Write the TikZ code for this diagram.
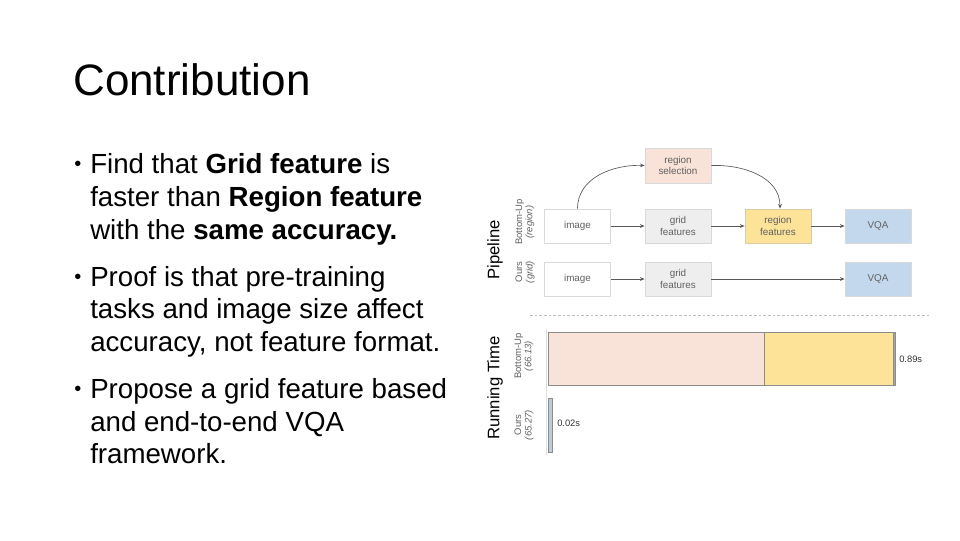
\documentclass[tikz,border=0pt]{standalone}
\usepackage{fontspec}
\setmainfont{Liberation Sans}
\usetikzlibrary{arrows.meta}
\definecolor{peach}{HTML}{F9E2D7}
\definecolor{gridc}{HTML}{EEEEEE}
\definecolor{yell}{HTML}{FDE398}
\definecolor{vqab}{HTML}{C3D8EC}
\definecolor{barb}{HTML}{BFCCD8}
\begin{document}
\begin{tikzpicture}[x=0.75pt,y=-0.75pt,
  btxt/.style={anchor=base west, inner sep=0pt, font=\fontsize{20.75}{24}\selectfont},
  dot/.style={anchor=base west, inner sep=0pt, font=\fontsize{15}{18}\selectfont},
  box/.style={draw=black!15, line width=0.6pt, minimum width=49.5pt, minimum height=25.5pt,
    inner sep=0pt, font=\fontsize{7.4}{8.4}\selectfont, text=black!62, align=center},
  arr/.style={-{Stealth[length=3.5pt,width=2.8pt]}, draw=black!65, line width=0.5pt},
  side/.style={rotate=90, align=center, inner sep=0pt, font=\fontsize{7.1}{7.8}\selectfont, text=black!62},
  big/.style={rotate=90, inner sep=0pt, font=\fontsize{12.5}{14}\selectfont},
  val/.style={anchor=west, inner sep=0pt, font=\fontsize{7}{8}\selectfont, text=black!80}]
\useasboundingbox (0,0) rectangle (960,540);

% title
\node[anchor=base west, inner sep=0pt, font=\fontsize{33}{40}\selectfont] (title) at (73,95) {Contribution};

% bullets
\node[dot] (d1) at (74,170) {•};
\node[btxt] (b1a) at (90,173) {Find that \textbf{Grid feature} is};
\node[btxt] (b1b) at (90,206) {faster than \textbf{Region feature}};
\node[btxt] (b1c) at (90,239) {with the \textbf{same accuracy.}};
\node[dot] (d2) at (74,283) {•};
\node[btxt] (b2a) at (90,286) {Proof is that pre-training};
\node[btxt] (b2b) at (90,318) {tasks and image size affect};
\node[btxt] (b2c) at (90,351) {accuracy, not feature format.};
\node[dot] (d3) at (74,395) {•};
\node[btxt] (b3a) at (90,398) {Propose a grid feature based};
\node[btxt] (b3b) at (90,431) {and end-to-end VQA};
\node[btxt] (b3c) at (90,463) {framework.};

% pipeline
\node[big] (pipe) at (495,250) {Pipeline};
\node[side] (lbu) at (525,222) {Bottom-Up\\\textit{(region)}};
\node[side] (lours) at (525,272) {Ours\\\textit{(grid)}};

\node[box, fill=white] (img1) at (577.5,226) {image};
\node[box, fill=gridc] (grid1) at (678,226) {grid\\features};
\node[box, fill=yell, draw=yell!80!black!70] (regf) at (778,226) {region\\features};
\node[box, fill=vqab] (vqa1) at (878,226) {VQA};
\node[box, fill=peach, minimum height=26.25pt] (regsel) at (678,165.5) {region\\selection};

\node[box, fill=white] (img2) at (577.5,279) {image};
\node[box, fill=gridc] (grid2) at (678,279) {grid\\features};
\node[box, fill=vqab] (vqa2) at (878,279) {VQA};

\draw[arr] (img1) -- (grid1);
\draw[arr] (grid1) -- (regf);
\draw[arr] (regf) -- (vqa1);
\draw[arr] (img2) -- (grid2);
\draw[arr] (grid2) -- (vqa2);
\draw[arr] (img1.north) to[out=90,in=178] (regsel.west);
\draw[arr] (regsel.east) to[out=2,in=90] ([xshift=1.5pt]regf.north);

% separator
\draw[black!25, dashed, dash pattern=on 2pt off 1.5pt, line width=0.5pt] (530,315) -- (930,315);

% running time
\node[big] (rt) at (495,388) {Running Time};
\node[side] (rbu) at (524,356) {Bottom-Up\\\textit{(66.13)}};
\node[side] (rours) at (524,425) {Ours\\\textit{(65.27)}};

\draw[black!12, line width=0.5pt] (546,329) -- (546,455);
\filldraw[fill=peach, draw=black!45, line width=0.6pt] (548,332) rectangle (764,385);
\filldraw[fill=yell, draw=black!45, line width=0.6pt] (764,332) rectangle (893,385);
\filldraw[fill=black!35, draw=black!45, line width=0.6pt] (893,332) rectangle (895,385);
\filldraw[fill=barb, draw=black!45, line width=0.6pt] (548,398) rectangle (552,452);
\node[val] (v1) at (899,359) {0.89s};
\node[val] (v2) at (557,423) {0.02s};
\end{tikzpicture}
\end{document}
